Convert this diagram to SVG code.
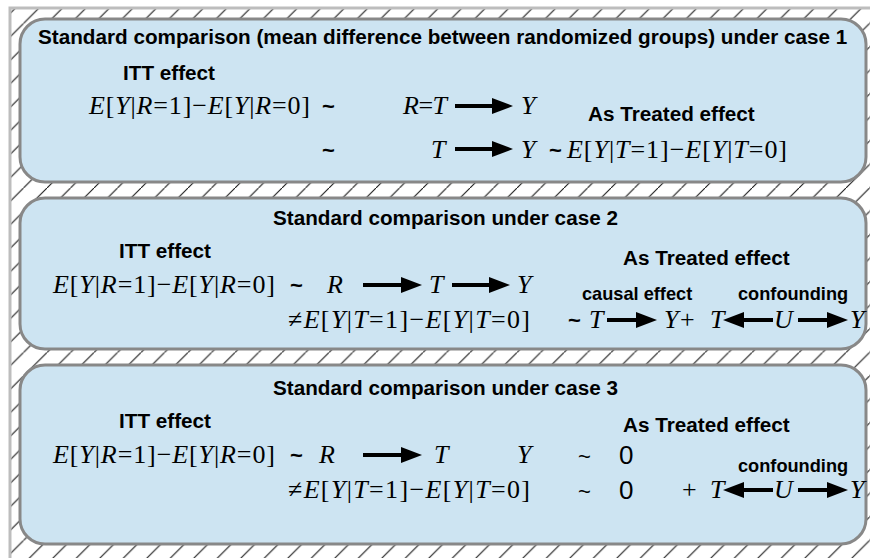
<svg xmlns="http://www.w3.org/2000/svg" width="870" height="558" viewBox="0 0 870 558">
<style>
.bg{fill:#fff}
.frame{fill:url(#hatch);stroke:#bdbdbd;stroke-width:3}
.box{fill:#cde4f2;stroke:#888;stroke-width:3}
.h{font-family:"Liberation Sans",Arial,sans-serif;font-weight:bold;font-size:20.7px;fill:#000}
.sm{font-family:"Liberation Sans",Arial,sans-serif;font-weight:bold;font-size:18.2px;fill:#000}
.m{font-family:"Liberation Serif","Times New Roman",serif;font-size:26px;fill:#000}
.i{font-style:italic}
.tl{font-family:"Liberation Sans",Arial,sans-serif;font-weight:bold;font-size:22px;fill:#000}
.tr{font-family:"Liberation Sans",Arial,sans-serif;font-size:22px;fill:#000}
.z{font-family:"Liberation Sans",Arial,sans-serif;font-size:26px;fill:#000}
.arr{stroke:#000;stroke-width:4;fill:none;marker-end:url(#ah)}
</style>
<defs>
<pattern id="hatch" patternUnits="userSpaceOnUse" width="23.5" height="23.5">
<rect width="23.5" height="23.5" fill="#fff"/>
<path d="M-2,25.5 L25.5,-2" stroke="#111" stroke-width="1"/>
</pattern>
<marker id="ah" markerUnits="userSpaceOnUse" markerWidth="21" markerHeight="16" viewBox="0 0 21 16" refX="11" refY="8" orient="auto">
<path d="M0,0 L21,8 L0,16 z" fill="#000"/>
</marker>
</defs>
<rect class="bg" width="870" height="558"/>
<rect class="frame" x="10" y="8" width="880" height="580"/>

<g id="box1">
<rect class="box" x="20" y="19" width="846" height="163" rx="25"/>
<text class="h" x="38" y="44">Standard comparison (mean difference between randomized groups) under case 1</text>
<text class="h" x="123" y="80">ITT effect</text>
<text class="m" x="89" y="114" textLength="221"><tspan class="i">E</tspan>[<tspan class="i">Y</tspan>|<tspan class="i">R</tspan>=1]−<tspan class="i">E</tspan>[<tspan class="i">Y</tspan>|<tspan class="i">R</tspan>=0]</text>
<text class="tl" x="322" y="114">~</text>
<text class="m" x="403" y="114" textLength="44"><tspan class="i">R</tspan>=<tspan class="i">T</tspan></text>
<text class="m i" x="521" y="114">Y</text>
<text class="h" x="588" y="121">As Treated effect</text>
<text class="tl" x="322" y="158">~</text>
<text class="m i" x="431" y="158">T</text>
<text class="m i" x="521" y="158">Y</text>
<text class="tl" x="549" y="158">~</text>
<text class="m" x="567" y="158" textLength="220"><tspan class="i">E</tspan>[<tspan class="i">Y</tspan>|<tspan class="i">T</tspan>=1]−<tspan class="i">E</tspan>[<tspan class="i">Y</tspan>|<tspan class="i">T</tspan>=0]</text>
</g>

<g id="box2">
<rect class="box" x="20" y="198" width="846" height="151" rx="25"/>
<text class="h" x="273" y="225">Standard comparison under case 2</text>
<text class="h" x="119" y="258">ITT effect</text>
<text class="h" x="623" y="265">As Treated effect</text>
<text class="m" x="53" y="293" textLength="222"><tspan class="i">E</tspan>[<tspan class="i">Y</tspan>|<tspan class="i">R</tspan>=1]−<tspan class="i">E</tspan>[<tspan class="i">Y</tspan>|<tspan class="i">R</tspan>=0]</text>
<text class="tl" x="290" y="293">~</text>
<text class="m i" x="327" y="293">R</text>
<text class="m i" x="429" y="293">T</text>
<text class="m i" x="517" y="293">Y</text>
<text class="sm" x="582" y="300">causal effect</text>
<text class="sm" x="738" y="300">confounding</text>
<text class="m" x="288" y="328" textLength="242">≠<tspan class="i">E</tspan>[<tspan class="i">Y</tspan>|<tspan class="i">T</tspan>=1]−<tspan class="i">E</tspan>[<tspan class="i">Y</tspan>|<tspan class="i">T</tspan>=0]</text>
<text class="tl" x="568" y="328">~</text>
<text class="m i" x="589" y="328">T</text>
<text class="m i" x="664" y="328">Y</text>
<text class="m" x="680" y="328">+</text>
<text class="m i" x="710" y="328">T</text>
<text class="m i" x="774" y="328">U</text>
<text class="m i" x="850" y="328">Y</text>
</g>

<g id="box3">
<rect class="box" x="20" y="365" width="846" height="179" rx="25"/>
<text class="h" x="273" y="395">Standard comparison under case 3</text>
<text class="h" x="119" y="428">ITT effect</text>
<text class="h" x="623" y="432">As Treated effect</text>
<text class="m" x="53" y="463" textLength="222"><tspan class="i">E</tspan>[<tspan class="i">Y</tspan>|<tspan class="i">R</tspan>=1]−<tspan class="i">E</tspan>[<tspan class="i">Y</tspan>|<tspan class="i">R</tspan>=0]</text>
<text class="tl" x="290" y="463">~</text>
<text class="m i" x="319" y="463">R</text>
<text class="m i" x="434" y="463">T</text>
<text class="m i" x="517" y="463">Y</text>
<text class="tr" x="578" y="464">~</text>
<text class="z" x="619" y="464">0</text>
<text class="sm" x="738" y="472">confounding</text>
<text class="m" x="288" y="498" textLength="242">≠<tspan class="i">E</tspan>[<tspan class="i">Y</tspan>|<tspan class="i">T</tspan>=1]−<tspan class="i">E</tspan>[<tspan class="i">Y</tspan>|<tspan class="i">T</tspan>=0]</text>
<text class="tr" x="578" y="499">~</text>
<text class="z" x="619" y="499">0</text>
<text class="m" x="682" y="498">+</text>
<text class="m i" x="710" y="498">T</text>
<text class="m i" x="774" y="498">U</text>
<text class="m i" x="850" y="498">Y</text>
</g>

<g id="connectors">
<line class="arr" x1="455" y1="106" x2="503" y2="106"/>
<line class="arr" x1="455" y1="149" x2="503" y2="149"/>
<line class="arr" x1="363" y1="285" x2="412" y2="285"/>
<line class="arr" x1="452" y1="285" x2="500" y2="285"/>
<line class="arr" x1="607" y1="320" x2="647" y2="320"/>
<line class="arr" x1="773" y1="320" x2="733" y2="320"/>
<line class="arr" x1="798" y1="320" x2="838" y2="320"/>
<line class="arr" x1="363" y1="455" x2="412" y2="455"/>
<line class="arr" x1="773" y1="490" x2="733" y2="490"/>
<line class="arr" x1="798" y1="490" x2="838" y2="490"/>
</g>
</svg>
